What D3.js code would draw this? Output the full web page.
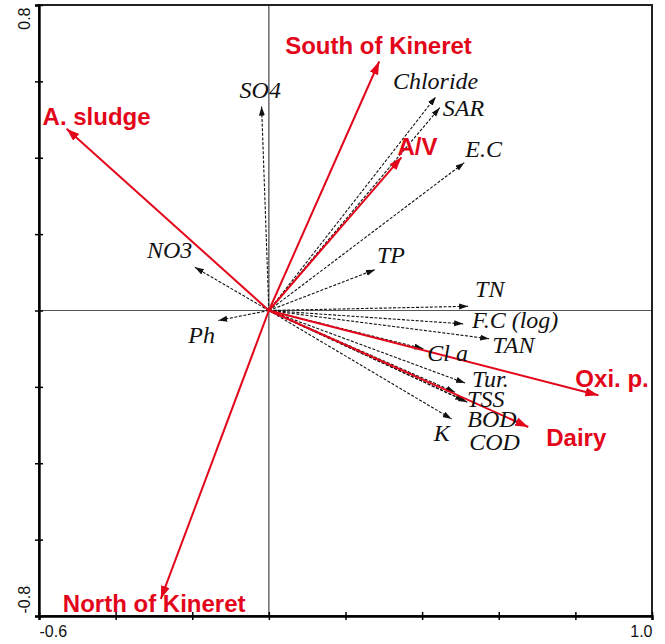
<!DOCTYPE html>
<html>
<head>
<meta charset="utf-8">
<script src="https://cdn.jsdelivr.net/npm/d3@7"></script>
<style>
  html, body { margin: 0; padding: 0; background: #fff; }
  svg { display: block; }
</style>
</head>
<body>
<svg id="chart" width="665" height="644"></svg>
<script>
// ---- Data ----
const envNames = ["South of Kineret", "A. sludge", "A/V", "North of Kineret", "Oxi. p.", "Dairy"];
const envX = [0.288, -0.528, 0.346, -0.282, 0.860, 0.677];
const envY = [0.652, 0.476, 0.401, -0.755, -0.222, -0.305];

const varNames = ["SO4", "NO3", "Ph", "Chloride", "SAR", "E.C", "TP", "TN", "F.C (log)", "TAN", "Cl a", "Tur.", "TSS", "BOD", "COD", "K"];
const varX = [-0.019, -0.193, -0.132, 0.436, 0.446, 0.510, 0.277, 0.520, 0.507, 0.575, 0.403, 0.512, 0.486, 0.518, 0.510, 0.477];
const varY = [0.534, 0.113, -0.026, 0.560, 0.531, 0.387, 0.107, 0.011, -0.035, -0.074, -0.100, -0.190, -0.214, -0.240, -0.236, -0.284];

const xTicks = [-0.6, -0.4, -0.2, 0, 0.2, 0.4, 0.6, 0.8, 1.0];
const yTicks = [-0.8, -0.6, -0.4, -0.2, 0, 0.2, 0.4, 0.6, 0.8];
const xTickLabels = ["-0.6", "1.0"];
const yTickLabels = ["-0.8", "0.8"];

// ---- Label placement (pixel offsets from arrow tips) ----
const envLabelOffsets = [[-94, -8], [-24, -4], [-4, -2], [-98, 13], [-23, -8], [18, 19]];
const varLabelOffsets = [[-22, -9], [-48, -9], [-30, 23], [-43, -8], [3, 8], [1, -6], [2, -7],
  [7, -9], [9, 4], [3, 14], [4, 12], [7, 4], [12, 15], [0, 25], [5, 49], [-18, 22]];

// ---- Layout ----
const svg = d3.select("#chart");
const x = d3.scaleLinear().domain([-0.6, 1.0]).range([39, 652]);
const y = d3.scaleLinear().domain([-0.8, 0.8]).range([616, 5]);
const RED = "#e3061a";

// zero lines
svg.append("line")
  .attr("x1", x(0)).attr("x2", x(0)).attr("y1", y(0.8)).attr("y2", y(-0.8))
  .attr("stroke", "#444").attr("stroke-width", 1.2);
svg.append("line")
  .attr("x1", x(-0.6)).attr("x2", x(1.0)).attr("y1", y(0)).attr("y2", y(0))
  .attr("stroke", "#555").attr("stroke-width", 1.2);

// frame (top/right)
svg.append("rect")
  .attr("x", x(-0.6)).attr("y", y(0.8))
  .attr("width", x(1.0) - x(-0.6)).attr("height", y(-0.8) - y(0.8))
  .attr("fill", "none").attr("stroke", "#222").attr("stroke-width", 2);

// axes
const xAxis = d3.axisBottom(x).tickValues(xTicks).tickSize(4)
  .tickFormat(d => {
    const s = d3.format(".1f")(d).replace("−", "-");
    return xTickLabels.includes(s) ? s : "";
  });
const gx = svg.append("g").attr("transform", `translate(0,${y(-0.8)})`).call(xAxis);
gx.select(".domain").attr("stroke", "#000").attr("stroke-width", 2.4);
gx.selectAll(".tick line").attr("y1", -4).attr("y2", 4).attr("stroke", "#000").attr("stroke-width", 1.5);
gx.selectAll(".tick text")
  .attr("font-family", "'Liberation Sans', Arial, sans-serif").attr("font-size", 16)
  .attr("fill", "#111").attr("dy", null).attr("y", 21)
  .attr("text-anchor", d => d < 0 ? "start" : "end");

const yAxis = d3.axisLeft(y).tickValues(yTicks).tickSize(4)
  .tickFormat(d => {
    const s = d3.format(".1f")(d).replace("−", "-");
    return yTickLabels.includes(s) ? s : "";
  });
const gy = svg.append("g").attr("transform", `translate(${x(-0.6)},0)`).call(yAxis);
gy.select(".domain").attr("stroke", "#000").attr("stroke-width", 2.4);
gy.selectAll(".tick line").attr("x1", 4).attr("x2", -4).attr("stroke", "#000").attr("stroke-width", 1.5);
gy.selectAll(".tick text")
  .attr("font-family", "'Liberation Sans', Arial, sans-serif").attr("font-size", 16)
  .attr("fill", "#111").attr("x", null).attr("dy", null)
  .attr("transform", d => d > 0 ? "translate(-9,2) rotate(-90)" : "translate(-9,-3) rotate(-90)")
  .attr("text-anchor", d => d > 0 ? "end" : "start");

// markers
const defs = svg.append("defs");
defs.append("marker").attr("id", "headRed")
  .attr("markerUnits", "userSpaceOnUse").attr("markerWidth", 14).attr("markerHeight", 10)
  .attr("refX", 13).attr("refY", 4.5).attr("orient", "auto")
  .append("path").attr("d", "M0,0 L13,4.5 L0,9 Z").attr("fill", RED);
defs.append("marker").attr("id", "headBlack")
  .attr("markerUnits", "userSpaceOnUse").attr("markerWidth", 10).attr("markerHeight", 8)
  .attr("refX", 9).attr("refY", 3).attr("orient", "auto")
  .append("path").attr("d", "M0,0 L9,3 L0,6 Z").attr("fill", "#111");

// response variable arrows (dashed black)
const vars = varNames.map((n, i) => ({ name: n, x: varX[i], y: varY[i], off: varLabelOffsets[i] }));
svg.append("g").selectAll("line").data(vars).join("line")
  .attr("x1", x(0)).attr("y1", y(0))
  .attr("x2", d => x(d.x)).attr("y2", d => y(d.y))
  .attr("stroke", "#111").attr("stroke-width", 1.1)
  .attr("stroke-dasharray", "3,1.6")
  .attr("marker-end", "url(#headBlack)");

// explanatory arrows (red)
const envs = envNames.map((n, i) => ({ name: n, x: envX[i], y: envY[i], off: envLabelOffsets[i] }));
svg.append("g").selectAll("line").data(envs).join("line")
  .attr("x1", x(0)).attr("y1", y(0))
  .attr("x2", d => x(d.x)).attr("y2", d => y(d.y))
  .attr("stroke", RED).attr("stroke-width", 2)
  .attr("marker-end", "url(#headRed)");

// labels
svg.append("g").selectAll("text").data(vars).join("text")
  .attr("x", d => x(d.x) + d.off[0]).attr("y", d => y(d.y) + d.off[1])
  .attr("font-family", "'Liberation Serif', 'Times New Roman', serif")
  .attr("font-style", "italic").attr("font-size", 24).attr("fill", "#111")
  .text(d => d.name);

svg.append("g").selectAll("text").data(envs).join("text")
  .attr("x", d => x(d.x) + d.off[0]).attr("y", d => y(d.y) + d.off[1])
  .attr("font-family", "'Liberation Sans', Arial, sans-serif")
  .attr("font-weight", "bold").attr("font-size", 24).attr("fill", RED)
  .text(d => d.name);
</script>
</body>
</html>
